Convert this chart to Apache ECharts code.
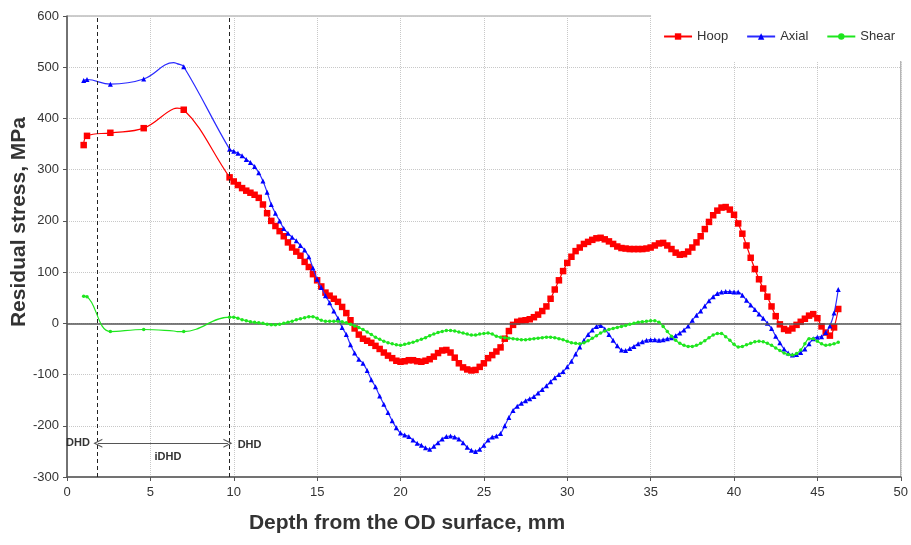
<!DOCTYPE html>
<html>
<head>
<meta charset="utf-8">
<script src="https://cdn.jsdelivr.net/npm/echarts@6/dist/echarts.min.js"></script>
<style>
html,body{margin:0;padding:0;background:#fff;}
#chart{width:911px;height:545px;}
</style>
</head>
<body>
<div id="chart"></div>
<script>
// ---- data ----
const seriesNames = ['Hoop', 'Axial', 'Shear'];
const xTicks = [0, 5, 10, 15, 20, 25, 30, 35, 40, 45, 50];
const yTicks = [-300, -200, -100, 0, 100, 200, 300, 400, 500, 600];

const depthEarly = [1.0, 1.2, 2.6, 4.6, 6.4, 6.6, 7.0];
const curveOnly  = [false, false, false, false, true, true, false];
const hoopEarly  = [348, 366, 372, 381, 419, 420, 417];
const axialEarly = [474, 476, 467, 477, 509, 507, 501];
const shearEarly = [53, 52, -16, -12, -15, -16, -16];

// densely measured points
const depthDense = [
  9.75,10,10.25,10.5,10.75,11,11.25,11.5,11.75,12,
  12.25,12.5,12.75,13,13.25,13.5,13.75,14,14.25,14.5,
  14.75,15,15.25,15.5,15.75,16,16.25,16.5,16.75,17,
  17.25,17.5,17.75,18,18.25,18.5,18.75,19,19.25,19.5,
  19.75,20,20.25,20.5,20.75,21,21.25,21.5,21.75,22,
  22.25,22.5,22.75,23,23.25,23.5,23.75,24,24.25,24.5,
  24.75,25,25.25,25.5,25.75,26,26.25,26.5,26.75,27,
  27.25,27.5,27.75,28,28.25,28.5,28.75,29,29.25,29.5,
  29.75,30,30.25,30.5,30.75,31,31.25,31.5,31.75,32,
  32.25,32.5,32.75,33,33.25,33.5,33.75,34,34.25,34.5,
  34.75,35,35.25,35.5,35.75,36,36.25,36.5,36.75,37,
  37.25,37.5,37.75,38,38.25,38.5,38.75,39,39.25,39.5,
  39.75,40,40.25,40.5,40.75,41,41.25,41.5,41.75,42,
  42.25,42.5,42.75,43,43.25,43.5,43.75,44,44.25,44.5,
  44.75,45,45.25,45.5,45.75,46,46.25
];
const hoopDense = [
  285,277,270,264,259,255,251,245,232,215,
  200,190,180,170,158,148,140,132,120,110,
  96,84,72,60,54,48,42,32,20,6,
  -10,-22,-30,-34,-38,-44,-50,-57,-63,-68,
  -73,-75,-74,-72,-72,-74,-75,-73,-70,-65,
  -58,-53,-52,-57,-67,-78,-86,-90,-92,-91,
  -85,-78,-68,-62,-55,-47,-30,-15,-3,3,
  5,6,8,12,17,24,33,48,66,84,
  102,118,130,141,148,155,159,163,166,167,
  164,160,155,150,147,146,145,145,145,145,
  146,148,152,156,157,152,145,138,134,135,
  140,148,158,170,184,198,211,220,226,227,
  222,212,195,175,152,128,106,86,68,52,
  33,14,-2,-11,-14,-10,-3,3,9,15,
  18,10,-6,-18,-24,-8,28
];
const axialDense = [
  340,336,332,327,320,314,306,294,278,256,
  232,215,200,185,176,168,161,152,143,130,
  108,86,70,54,40,24,10,-8,-22,-42,
  -58,-70,-78,-92,-110,-124,-142,-158,-174,-190,
  -204,-214,-218,-221,-228,-234,-238,-243,-246,-240,
  -233,-226,-221,-220,-222,-226,-233,-242,-248,-250,
  -246,-238,-228,-222,-220,-215,-200,-184,-170,-162,
  -156,-151,-147,-143,-136,-129,-122,-114,-106,-100,
  -94,-85,-74,-60,-46,-33,-22,-13,-6,-4,
  -11,-22,-33,-44,-52,-53,-49,-45,-40,-36,
  -33,-32,-32,-33,-32,-30,-28,-24,-19,-13,
  -5,6,16,24,34,44,52,58,61,62,
  62,61,61,55,45,36,27,18,10,0,
  -10,-25,-38,-50,-58,-62,-61,-57,-50,-40,
  -30,-27,-26,-18,-5,20,66
];
const shearDense = [
  12,12,10,7,5,3,2,1,0,-2,
  -3,-3,-2,0,2,4,7,9,11,13,
  13,10,6,4,4,4,4,3,1,-2,
  -5,-8,-12,-17,-22,-27,-31,-35,-38,-40,
  -42,-43,-41,-39,-37,-34,-31,-28,-24,-21,
  -18,-16,-14,-14,-15,-17,-19,-21,-23,-23,
  -21,-20,-19,-21,-25,-27,-28,-29,-30,-31,
  -32,-32,-31,-30,-29,-28,-27,-27,-28,-30,
  -32,-35,-38,-39,-40,-38,-34,-29,-24,-19,
  -15,-12,-10,-8,-6,-4,-2,0,2,3,
  4,5,5,2,-6,-16,-25,-33,-39,-43,
  -45,-45,-43,-39,-34,-28,-23,-20,-20,-26,
  -33,-41,-46,-45,-42,-39,-36,-35,-36,-39,
  -43,-48,-53,-58,-61,-62,-59,-52,-40,-30,
  -30,-35,-40,-43,-42,-40,-37
];

// annotations (data coordinates)
const dhdBounds = [1.8, 9.7];
const arrowLevel = -234;
const annotations = [
  { text: 'DHD',  x: 0.66,  y: -234 },
  { text: 'iDHD', x: 6.05,  y: -261 },
  { text: 'DHD',  x: 10.95, y: -238 }
];

// ---- build ----
const depthAll = depthEarly.concat(depthDense);
function pairs(early, dense) {
  const v = early.concat(dense);
  return depthAll.map((d, i) => {
    const item = { value: [d, v[i]] };
    if (i < curveOnly.length && curveOnly[i]) item.symbol = 'none';
    return item;
  });
}
const FONT = 'Liberation Sans, Arial, sans-serif';
const CHEVRON = 'path://M0,10 L5,0 L10,10 L8.6,10 L5,2.6 L1.4,10 Z';
const chart = echarts.init(document.getElementById('chart'), null, { renderer: 'canvas' });

const option = {
  backgroundColor: '#ffffff',
  animation: false,
  textStyle: { fontFamily: FONT },
  grid: {
    left: 67, right: 9, top: 16, bottom: 68,
    show: true, borderColor: '#9a9a9a', borderWidth: 1, backgroundColor: 'transparent'
  },
  legend: {
    data: seriesNames,
    right: 0, top: 0,
    padding: [30, 16, 18, 12],
    itemGap: 18,
    itemWidth: 28, itemHeight: 8,
    backgroundColor: '#ffffff',
    textStyle: { fontFamily: FONT, fontSize: 13, color: '#333' }
  },
  xAxis: {
    type: 'value', min: 0, max: 50, interval: 5,
    axisLine: { show: true, onZero: false, lineStyle: { color: '#555', width: 1.5 } },
    axisTick: { show: true, length: 4, lineStyle: { color: '#555' } },
    axisLabel: { color: '#333', fontSize: 13, margin: 9, fontFamily: FONT,
      formatter: v => xTicks.includes(v) ? String(v) : '' },
    splitLine: { show: true, lineStyle: { color: '#c8c8c8', type: 'dotted', width: 1 } }
  },
  yAxis: {
    type: 'value', min: -300, max: 600, interval: 100,
    axisLine: { show: true, onZero: false, lineStyle: { color: '#555', width: 1.5 } },
    axisTick: { show: true, length: 4, lineStyle: { color: '#555' } },
    axisLabel: { color: '#333', fontSize: 13, margin: 8, fontFamily: FONT,
      formatter: v => yTicks.includes(v) ? String(v) : '' },
    splitLine: { show: true, lineStyle: { color: '#c8c8c8', type: 'dotted', width: 1 } }
  },
  graphic: [
    { type: 'text', x: 407, y: 523,
      style: { text: 'Depth from the OD surface, mm', fontFamily: FONT, fontSize: 21,
               fontWeight: 'bold', fill: '#333', align: 'center', verticalAlign: 'middle' } },
    { type: 'text', x: 19, y: 222, rotation: Math.PI / 2,
      style: { text: 'Residual stress, MPa', fontFamily: FONT, fontSize: 21, fontWeight: 'bold',
               fill: '#333', align: 'center', verticalAlign: 'middle' } }
  ],
  series: [
    {
      name: 'Hoop', type: 'line', smooth: 0.4,
      data: pairs(hoopEarly, hoopDense),
      symbol: 'rect', symbolSize: 6.5,
      itemStyle: { color: '#ff0000' },
      lineStyle: { color: '#ff0000', width: 1.2 },
      z: 3,
      markLine: {
        silent: true, symbol: 'none', animation: false,
        label: { show: false },
        lineStyle: { color: '#555', width: 1.5, type: 'solid' },
        data: [{ yAxis: 0 }]
      }
    },
    {
      name: 'Axial', type: 'line', smooth: 0.4,
      data: pairs(axialEarly, axialDense),
      symbol: 'triangle', symbolSize: 5,
      itemStyle: { color: '#0000ff' },
      lineStyle: { color: '#2a2aff', width: 1.2 },
      z: 4,
      markLine: {
        silent: true, symbol: 'none', animation: false,
        label: { show: false },
        lineStyle: { color: '#222', width: 1, type: [4, 3] },
        data: dhdBounds.map(b => ({ xAxis: b }))
      }
    },
    {
      name: 'Shear', type: 'line', smooth: 0.4,
      data: pairs(shearEarly, shearDense),
      symbol: 'circle', symbolSize: 3.5,
      itemStyle: { color: '#1ee61e' },
      lineStyle: { color: '#1ee61e', width: 1.2 },
      z: 5,
      markLine: {
        silent: true, symbol: [CHEVRON, CHEVRON], symbolSize: 9, animation: false,
        label: { show: false },
        itemStyle: { color: '#555' },
        lineStyle: { color: '#555', width: 1, type: 'solid' },
        data: [[{ coord: [dhdBounds[0] + 0.05, arrowLevel] }, { coord: [dhdBounds[1] - 0.05, arrowLevel] }]]
      },
      markPoint: {
        silent: true, symbol: 'rect', symbolSize: 1, animation: false,
        itemStyle: { color: 'rgba(0,0,0,0)' },
        label: { show: true, position: 'inside', fontFamily: FONT, fontSize: 11,
                 fontWeight: 'bold', color: '#333', formatter: p => p.name },
        data: annotations.map(a => ({ name: a.text, coord: [a.x, a.y], value: 0 }))
      }
    }
  ]
};
chart.setOption(option);
</script>
</body>
</html>
